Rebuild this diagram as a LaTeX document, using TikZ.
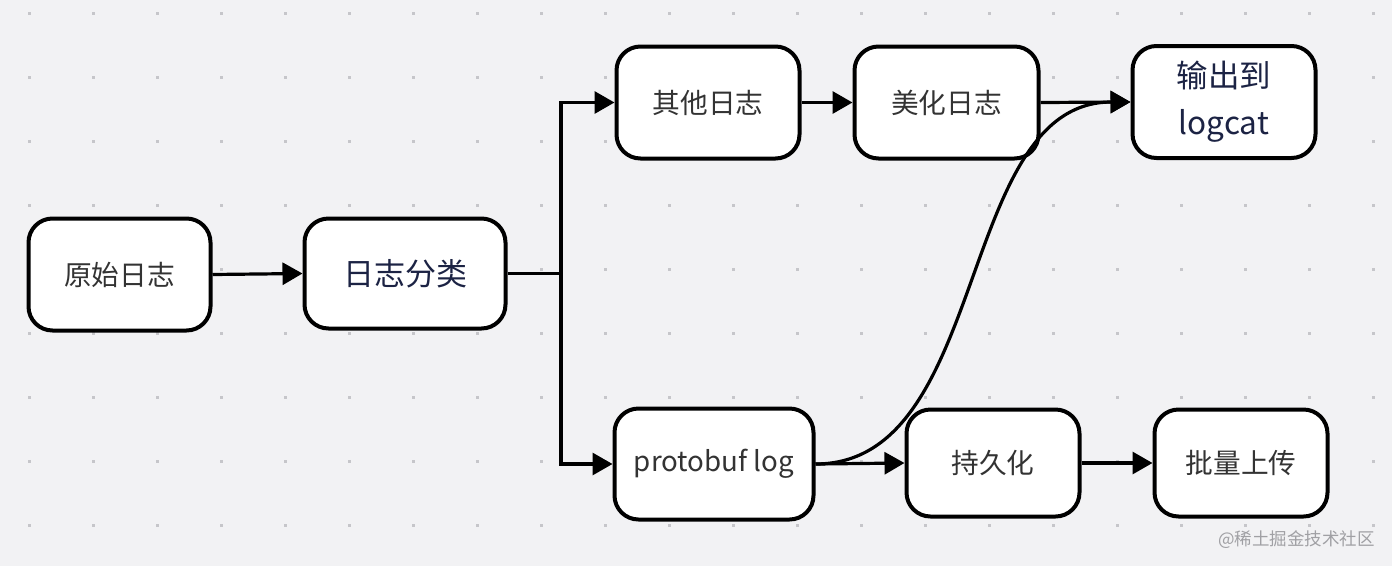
\documentclass[tikz,border=0pt]{standalone}
\usepackage{fontspec}
\setmainfont{Noto Sans CJK SC}
\usetikzlibrary{arrows.meta}
\definecolor{bgc}{HTML}{F2F2F4}
\definecolor{dotc}{HTML}{C6C6CA}
\definecolor{txtgray}{HTML}{333333}
\definecolor{txtnavy}{HTML}{1C2344}
\definecolor{wmc}{HTML}{A0A0A4}
\tikzset{
  box/.style={draw=black, line width=4pt, fill=white, rounded corners=24pt,
    align=center, inner sep=0pt, text=txtgray, font=\fontsize{27.7}{32}\selectfont},
  conn/.style={line width=3.2pt, -{Triangle[length=20pt,width=22pt]}},
  plain/.style={line width=3.2pt},
}
\begin{document}
\begin{tikzpicture}[x=1pt,y=-1pt]
\useasboundingbox (0,0) rectangle (1392,566);
\fill[bgc] (0,0) rectangle (1392,566);
\foreach \i in {0,...,21}{
  \foreach \j in {0,...,8}{
    \fill[dotc] ({29+64*\i-1.5},{13+64*\j-1.5}) rectangle ++(3,3);
  }
}
\node[box, minimum width=182pt, minimum height=112pt] (raw) at (119.5,274.5) {原始日志};
\node[box, minimum width=201pt, minimum height=110pt, text=txtnavy, font=\fontsize{31}{36}\selectfont] (cls) at (405,273.5) {日志分类};
\node[box, minimum width=183pt, minimum height=112pt] (other) at (708,102.5) {其他日志};
\node[box, minimum width=184pt, minimum height=112pt] (pretty) at (946.5,102.5) {美化日志};
\node[box, minimum width=183pt, minimum height=112pt, text=txtnavy, font=\fontsize{31.5}{47}\selectfont] (logcat) at (1224,102) {输出到\\logcat};
\node[box, minimum width=199pt, minimum height=111pt] (proto) at (714,464) {protobuf log};
\node[box, minimum width=173pt, minimum height=107pt] (persist) at (993,463) {持久化};
\node[box, minimum width=173pt, minimum height=107pt] (upload) at (1241,463) {批量上传};
\coordinate (sp) at (561,273.5);
\node[anchor=east, text=wmc, font=\fontsize{17.5}{20}\selectfont, inner sep=0pt] (wm) at (1375,540) {@稀土掘金技术社区};
\draw[conn] (raw.east) -- (cls.west);
\draw[plain] (cls.east) -- (sp);
\draw[conn] (sp) |- (other.west);
\draw[conn] (sp) |- (proto.west);
\draw[conn] (other.east) -- (pretty.west);
\draw[conn] (pretty.east) -- (logcat.west);
\draw[conn] (proto.east) .. controls +(175,0) and +(-175,0) .. (logcat.west);
\draw[conn] (proto.east) -- (persist.west);
\draw[conn] (persist.east) -- (upload.west);
\end{tikzpicture}
\end{document}
